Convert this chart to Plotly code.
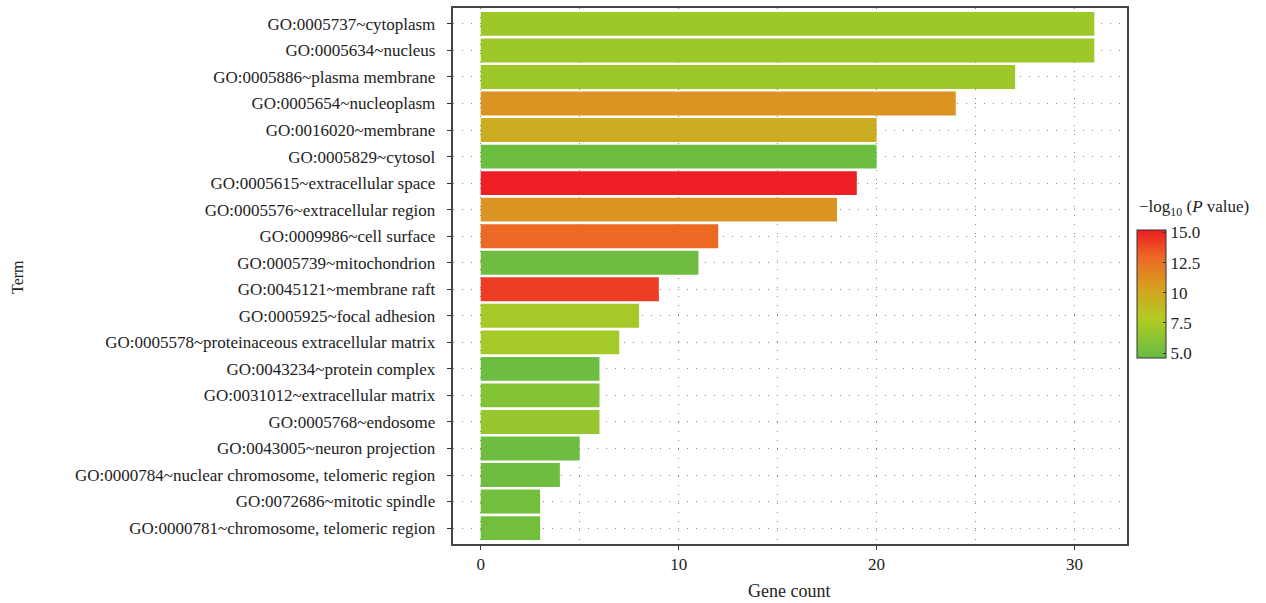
import plotly.graph_objects as go

# GO cellular-component terms, gene counts and -log10(P) values
terms = [
    "GO:0005737~cytoplasm",
    "GO:0005634~nucleus",
    "GO:0005886~plasma membrane",
    "GO:0005654~nucleoplasm",
    "GO:0016020~membrane",
    "GO:0005829~cytosol",
    "GO:0005615~extracellular space",
    "GO:0005576~extracellular region",
    "GO:0009986~cell surface",
    "GO:0005739~mitochondrion",
    "GO:0045121~membrane raft",
    "GO:0005925~focal adhesion",
    "GO:0005578~proteinaceous extracellular matrix",
    "GO:0043234~protein complex",
    "GO:0031012~extracellular matrix",
    "GO:0005768~endosome",
    "GO:0043005~neuron projection",
    "GO:0000784~nuclear chromosome, telomeric region",
    "GO:0072686~mitotic spindle",
    "GO:0000781~chromosome, telomeric region",
]
gene_counts = [31, 31, 27, 24, 20, 20, 19, 18, 12, 11, 9, 8, 7, 6, 6, 6, 5, 4, 3, 3]
neg_log_p = [7.0, 7.0, 7.0, 11.0, 9.7, 4.9, 15.1, 11.0, 12.9, 5.0,
             14.2, 7.3, 7.3, 4.9, 5.9, 6.7, 5.0, 5.0, 5.2, 5.2]

cbar_ticks = [5.0, 7.5, 10, 12.5, 15.0]
cbar_ticktext = ["5.0", "7.5", "10", "12.5", "15.0"]

FONT = "Liberation Serif"
TXT = "#222"
colorscale = [
    [0.0, "#66BB44"],
    [0.3, "#B0CC22"],
    [0.55, "#D6A020"],
    [0.78, "#EC6A24"],
    [1.0, "#EE1C24"],
]

# plot area in pixels
L, R, T, B = 453, 1127, 8, 544
W, H = 1266, 603
pw, ph = R - L, B - T

fig = go.Figure(
    go.Bar(
        x=gene_counts,
        y=terms,
        orientation="h",
        width=0.9,
        marker=dict(
            color=neg_log_p,
            colorscale=colorscale,
            cmin=4.6,
            cmax=15.2,
            line=dict(width=0),
            colorbar=dict(
                x=(1137 - L) / pw,
                xanchor="left",
                y=(B - 294) / ph,
                yanchor="middle",
                len=128,
                lenmode="pixels",
                thickness=29,
                thicknessmode="pixels",
                outlinecolor="#333",
                outlinewidth=1,
                tickvals=cbar_ticks,
                ticktext=cbar_ticktext,
                ticks="inside",
                ticklen=3,
                tickcolor="#333",
                tickfont=dict(family=FONT, size=17, color=TXT),
                xpad=0,
                ypad=0,
            ),
        ),
        hovertemplate="%{y}: %{x}<extra></extra>",
    )
)

dot = "1px,8px"
fig.update_layout(
    width=W,
    height=H,
    margin=dict(l=L, r=W - R, t=T, b=H - B, autoexpand=False),
    paper_bgcolor="white",
    plot_bgcolor="white",
    font=dict(family=FONT, size=17, color=TXT),
    showlegend=False,
    bargap=0.1,
)
fig.update_xaxes(
    range=[-1.4, 32.65],
    tickvals=[0, 10, 20, 30],
    ticks="outside",
    ticklen=4,
    tickcolor="#333",
    showline=True,
    linecolor="#444",
    linewidth=1.5,
    mirror=True,
    showgrid=True,
    gridcolor="#888",
    gridwidth=1,
    griddash=dot,
    minor=dict(dtick=5, tick0=0, showgrid=True, gridcolor="#888", griddash=dot, ticks=""),
    zeroline=False,
    tickfont=dict(family=FONT, size=17),
    automargin=False,
)
fig.update_yaxes(
    categoryorder="array",
    categoryarray=terms[::-1],
    range=[-0.6, 19.6],
    ticks="outside",
    ticklen=4,
    tickcolor="#333",
    showline=True,
    linecolor="#444",
    linewidth=1.5,
    mirror=True,
    showgrid=True,
    gridcolor="#888",
    gridwidth=1,
    griddash=dot,
    tickfont=dict(family=FONT, size=17),
    ticksuffix="  ",
    automargin=False,
)

# axis titles
fig.add_annotation(
    text="Gene count", xref="paper", yref="paper",
    x=(789 - L) / pw, y=(B - 591) / ph, xanchor="center", yanchor="middle",
    showarrow=False, font=dict(family=FONT, size=18, color=TXT),
)
fig.add_annotation(
    text="Term", textangle=-90, xref="paper", yref="paper",
    x=(17 - L) / pw, y=(B - 277) / ph, xanchor="center", yanchor="middle",
    showarrow=False, font=dict(family=FONT, size=16, color=TXT),
)
# colour-bar title
fig.add_annotation(
    text="\u2212log<sub>10</sub> (<i>P</i> value)", xref="paper", yref="paper",
    x=(1137 - L) / pw, y=(B - 208) / ph, xanchor="left", yanchor="middle",
    showarrow=False, font=dict(family=FONT, size=17, color=TXT),
)

fig.write_html("out.html")
